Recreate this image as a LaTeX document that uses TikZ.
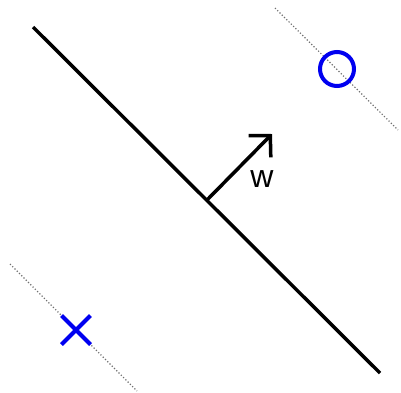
\documentclass[tikz,border=0pt]{standalone}
\usepackage{fontspec}
\setmainfont{Liberation Sans}
\usetikzlibrary{arrows.meta,shapes.misc}
\definecolor{pt}{HTML}{0000F0}
\definecolor{margin}{HTML}{707070}

\tikzset{
  sep/.style={line width=3.5pt},
  marg/.style={margin, line width=1.2pt, dotted},
  possample/.style={circle, draw=pt, line width=4pt, minimum size=34pt, inner sep=0pt},
  negsample/.style={cross out, draw=pt, line width=4pt, minimum size=25pt, inner sep=0pt},
}

\begin{document}
\begin{tikzpicture}[x=1pt,y=-1pt]
  \useasboundingbox (0,0) rectangle (401,392);
  % separating line and normal
  \coordinate (s1) at (33,27);
  \coordinate (s2) at (380,373);
  \draw[sep] (s1) -- (s2);
  \coordinate (w0) at (207,200);
  \coordinate (w1) at (272,134);
  \draw[sep, -{Straight Barb[length=15pt, width=31pt, line width=3.5pt]}] (w0) -- (w1);
  \node[font=\fontsize{32}{32}\selectfont] (wlab) at (262,179) {w};
  % margins
  \coordinate (m1) at (275,8);
  \coordinate (m2) at (398,130);
  \draw[marg] (m1) -- (m2);
  \coordinate (m3) at (10,264);
  \coordinate (m4) at (137,391);
  \draw[marg] (m3) -- (m4);
  % samples
  \node[possample] (o) at (337,69) {};
  \node[negsample] (x) at (76,330) {};
\end{tikzpicture}
\end{document}
